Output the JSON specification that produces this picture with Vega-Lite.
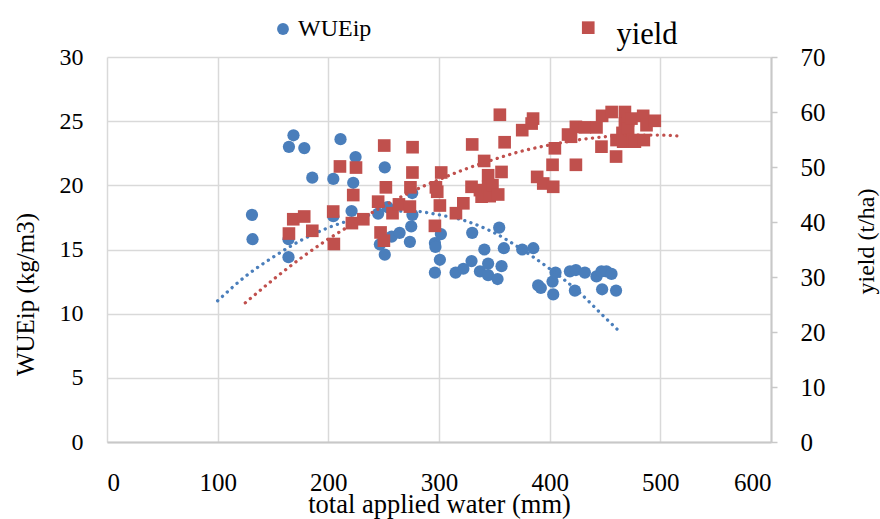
{
  "$schema": "https://vega.github.io/schema/vega-lite/v6.json",
  "autosize": "none",
  "width": 664,
  "height": 385,
  "padding": {"left": 107, "top": 57, "right": 109, "bottom": 77},
  "background": "white",
  "config": {
    "font": "Liberation Serif",
    "view": {"stroke": null},
    "axis": {"labelFont": "Liberation Serif", "titleFont": "Liberation Serif", "labelColor": "black", "titleColor": "black", "titleFontWeight": "normal"},
    "legend": {"labelFont": "Liberation Serif", "labelColor": "black"}
  },
  "datasets": {
    "wue": [
      {"water": 131, "WUEip": 17.7}, {"water": 131.5, "WUEip": 15.8}, {"water": 164, "WUEip": 15.8}, {"water": 164, "WUEip": 14.4},
      {"water": 164.4, "WUEip": 23.0}, {"water": 168.5, "WUEip": 23.9}, {"water": 178.3, "WUEip": 22.9}, {"water": 185.5, "WUEip": 20.6},
      {"water": 204.5, "WUEip": 20.5}, {"water": 211, "WUEip": 23.6}, {"water": 204.5, "WUEip": 17.6}, {"water": 221, "WUEip": 18.0},
      {"water": 222.5, "WUEip": 20.2}, {"water": 224.6, "WUEip": 22.2}, {"water": 245, "WUEip": 17.8}, {"water": 246.6, "WUEip": 15.4},
      {"water": 251, "WUEip": 14.6}, {"water": 251, "WUEip": 21.4}, {"water": 253.5, "WUEip": 18.3}, {"water": 257.2, "WUEip": 16.0},
      {"water": 264.4, "WUEip": 16.3}, {"water": 273.7, "WUEip": 15.6}, {"water": 274.9, "WUEip": 16.8}, {"water": 276, "WUEip": 17.7},
      {"water": 275.8, "WUEip": 19.4}, {"water": 296.3, "WUEip": 15.5}, {"water": 296.8, "WUEip": 15.2}, {"water": 301.7, "WUEip": 16.2},
      {"water": 300.8, "WUEip": 14.2}, {"water": 296.3, "WUEip": 13.2}, {"water": 315, "WUEip": 13.2}, {"water": 322, "WUEip": 13.5},
      {"water": 329.4, "WUEip": 14.1}, {"water": 330, "WUEip": 16.3}, {"water": 341, "WUEip": 15.0}, {"water": 337, "WUEip": 13.3},
      {"water": 344.4, "WUEip": 13.9}, {"water": 344.4, "WUEip": 13.0}, {"water": 352.9, "WUEip": 12.7}, {"water": 356.5, "WUEip": 13.7},
      {"water": 354.4, "WUEip": 16.7}, {"water": 358.6, "WUEip": 15.1}, {"water": 375.2, "WUEip": 15.0}, {"water": 385.2, "WUEip": 15.1},
      {"water": 389.6, "WUEip": 12.2}, {"water": 392, "WUEip": 12.0}, {"water": 403.2, "WUEip": 11.5}, {"water": 402.6, "WUEip": 12.5},
      {"water": 405.3, "WUEip": 13.2}, {"water": 418.3, "WUEip": 13.3}, {"water": 423.7, "WUEip": 13.4}, {"water": 431.8, "WUEip": 13.2},
      {"water": 422.8, "WUEip": 11.8}, {"water": 442.3, "WUEip": 12.9}, {"water": 446.8, "WUEip": 13.3}, {"water": 451.3, "WUEip": 13.3},
      {"water": 455.9, "WUEip": 13.1}, {"water": 447.4, "WUEip": 11.9}, {"water": 460, "WUEip": 11.8}
    ],
    "wtrend": [
      {"water": 100, "WUEip": 11.0}, {"water": 125, "WUEip": 12.9}, {"water": 150, "WUEip": 14.4}, {"water": 175, "WUEip": 15.7},
      {"water": 200, "WUEip": 16.7}, {"water": 225, "WUEip": 17.4}, {"water": 250, "WUEip": 17.9}, {"water": 275, "WUEip": 18.0},
      {"water": 300, "WUEip": 17.7}, {"water": 325, "WUEip": 17.2}, {"water": 350, "WUEip": 16.3}, {"water": 375, "WUEip": 15.0},
      {"water": 400, "WUEip": 13.5}, {"water": 425, "WUEip": 11.8}, {"water": 450, "WUEip": 9.7}, {"water": 462, "WUEip": 8.7}
    ],
    "yld": [
      {"water": 164.4, "yield": 37.9}, {"water": 168.3, "yield": 40.5}, {"water": 178.2, "yield": 41.0}, {"water": 185.5, "yield": 38.4},
      {"water": 204.4, "yield": 41.9}, {"water": 205, "yield": 36.0}, {"water": 210.5, "yield": 50.1}, {"water": 225, "yield": 49.9},
      {"water": 221.3, "yield": 39.8}, {"water": 222.5, "yield": 44.9}, {"water": 231.6, "yield": 40.5}, {"water": 245, "yield": 43.7},
      {"water": 247.2, "yield": 38.1}, {"water": 250.2, "yield": 36.6}, {"water": 250.5, "yield": 53.9}, {"water": 252, "yield": 46.3},
      {"water": 258, "yield": 41.6}, {"water": 263.8, "yield": 43.2}, {"water": 273.7, "yield": 42.8}, {"water": 274.2, "yield": 46.3},
      {"water": 276, "yield": 49.0}, {"water": 276.1, "yield": 53.6}, {"water": 296.3, "yield": 39.3}, {"water": 297.2, "yield": 46.3},
      {"water": 298.4, "yield": 45.5}, {"water": 300.8, "yield": 43.0}, {"water": 302, "yield": 49.0}, {"water": 315.3, "yield": 41.6},
      {"water": 322, "yield": 43.4}, {"water": 329.4, "yield": 46.4}, {"water": 330, "yield": 54.1}, {"water": 337, "yield": 45.8},
      {"water": 338.5, "yield": 44.6}, {"water": 340.8, "yield": 51.1}, {"water": 344.4, "yield": 48.5}, {"water": 344.4, "yield": 46.4},
      {"water": 345.8, "yield": 44.7}, {"water": 348.3, "yield": 46.7}, {"water": 353.5, "yield": 45.0}, {"water": 356.5, "yield": 49.1},
      {"water": 355, "yield": 59.5}, {"water": 359.3, "yield": 54.5}, {"water": 375.2, "yield": 56.7}, {"water": 385, "yield": 58.8},
      {"water": 383.7, "yield": 57.9}, {"water": 388.7, "yield": 48.2}, {"water": 394.2, "yield": 47.0}, {"water": 403.2, "yield": 46.4},
      {"water": 402.6, "yield": 50.4}, {"water": 404.7, "yield": 53.4}, {"water": 419.3, "yield": 55.5}, {"water": 416.6, "yield": 55.9},
      {"water": 423.7, "yield": 50.4}, {"water": 423.7, "yield": 57.3}, {"water": 431.8, "yield": 57.2}, {"water": 442.3, "yield": 57.2},
      {"water": 447.4, "yield": 59.3}, {"water": 446.8, "yield": 53.7}, {"water": 456, "yield": 60.0}, {"water": 460, "yield": 51.9},
      {"water": 460.4, "yield": 54.9}, {"water": 465.8, "yield": 56.2}, {"water": 466.4, "yield": 54.6}, {"water": 468, "yield": 60.0},
      {"water": 468, "yield": 57.9}, {"water": 470.9, "yield": 58.5}, {"water": 470.9, "yield": 57.0}, {"water": 473.9, "yield": 58.8},
      {"water": 475.4, "yield": 54.9}, {"water": 477, "yield": 54.6}, {"water": 484.5, "yield": 59.3}, {"water": 485.1, "yield": 54.9},
      {"water": 487.5, "yield": 57.6}, {"water": 495, "yield": 58.4}
    ],
    "ytrend": [
      {"water": 125, "yield": 25.3}, {"water": 150, "yield": 29.5}, {"water": 175, "yield": 33.4}, {"water": 200, "yield": 36.9},
      {"water": 225, "yield": 40.0}, {"water": 250, "yield": 42.9}, {"water": 275, "yield": 45.5}, {"water": 300, "yield": 47.7},
      {"water": 325, "yield": 49.7}, {"water": 350, "yield": 51.4}, {"water": 375, "yield": 52.9}, {"water": 400, "yield": 54.0},
      {"water": 425, "yield": 54.9}, {"water": 450, "yield": 55.5}, {"water": 475, "yield": 55.8}, {"water": 500, "yield": 55.8},
      {"water": 520, "yield": 55.6}
    ]
  },
  "layer": [
    {
      "layer": [
        {
          "data": {"name": "wue"},
          "transform": [{"fold": ["WUEip"], "as": ["series", "v"]}],
          "mark": {"type": "point", "shape": "circle", "filled": true, "opacity": 1, "size": 150},
          "encoding": {
            "x": {"field": "water", "type": "quantitative",
              "scale": {"domain": [0, 600], "nice": false},
              "axis": {"values": [0, 100, 200, 300, 400, 500, 600], "grid": true, "gridColor": "#d9d9d9", "gridWidth": 1.5,
                "domain": true, "domainColor": "#c8c8c8", "domainWidth": 2, "ticks": false,
                "labelFontSize": 25, "labelPadding": 28,
                "title": "total applied water (mm)", "titleFontSize": 26.5, "titleX": 332, "titleY": 70.5, "titleBaseline": "alphabetic", "titleAnchor": "middle"}},
            "y": {"field": "WUEip", "type": "quantitative",
              "scale": {"domain": [0, 30], "nice": false},
              "axis": {"values": [0, 5, 10, 15, 20, 25, 30], "grid": true, "gridColor": "#d9d9d9", "gridWidth": 1.5,
                "domain": false, "ticks": false, "labelFontSize": 24, "labelPadding": 24,
                "title": "WUEip (kg/m3)", "titleFontSize": 25, "titleAngle": 270, "titleX": -82, "titleY": 237, "titleBaseline": "middle", "titleAlign": "center"}},
            "color": {"field": "series", "type": "nominal",
              "scale": {"domain": ["WUEip"], "range": ["#4a7ebb"]},
              "legend": {"title": null, "orient": "none", "legendX": 164, "legendY": -40, "padding": 0,
                "labelFontSize": 24, "labelOffset": 3, "symbolSize": 140, "symbolType": "circle"}}
          }
        },
        {
          "data": {"name": "wtrend"},
          "mark": {"type": "line", "color": "#4a7ebb", "strokeWidth": 3.3, "strokeDash": [0.1, 6.4], "strokeCap": "round", "interpolate": "monotone"},
          "encoding": {
            "x": {"field": "water", "type": "quantitative"},
            "y": {"field": "WUEip", "type": "quantitative"}
          }
        }
      ]
    },
    {
      "layer": [
        {
          "data": {"name": "yld"},
          "transform": [{"fold": ["yield"], "as": ["series", "v"]}],
          "mark": {"type": "point", "shape": "square", "filled": true, "opacity": 1, "size": 160},
          "encoding": {
            "x": {"field": "water", "type": "quantitative"},
            "y": {"field": "yield", "type": "quantitative",
              "scale": {"domain": [0, 70], "nice": false},
              "axis": {"orient": "right", "values": [0, 10, 20, 30, 40, 50, 60, 70], "grid": false,
                "domain": true, "domainColor": "#c8c8c8", "domainWidth": 2, "ticks": true, "tickColor": "#c8c8c8", "tickSize": 6, "tickWidth": 1.5,
                "labelFontSize": 25, "labelPadding": 23,
                "title": "yield (t/ha)", "titleFontSize": 24, "titleAngle": 270, "titleX": 95, "titleY": 184, "titleBaseline": "middle", "titleAlign": "center"}},
            "color": {"field": "series", "type": "nominal",
              "scale": {"domain": ["yield"], "range": ["#c0504d"]},
              "legend": {"title": null, "orient": "none", "legendX": 466, "legendY": -37, "padding": 0,
                "labelFontSize": 30.5, "labelOffset": 13, "symbolSize": 160, "symbolType": "M-1,-2.2H1V-0.2H-1Z"}}
          }
        },
        {
          "data": {"name": "ytrend"},
          "mark": {"type": "line", "color": "#c0504d", "strokeWidth": 3.3, "strokeDash": [0.1, 6.4], "strokeCap": "round", "interpolate": "monotone"},
          "encoding": {
            "x": {"field": "water", "type": "quantitative"},
            "y": {"field": "yield", "type": "quantitative"}
          }
        }
      ]
    }
  ],
  "resolve": {"scale": {"y": "independent", "color": "independent"}, "axis": {"y": "independent"}, "legend": {"color": "independent"}}
}
